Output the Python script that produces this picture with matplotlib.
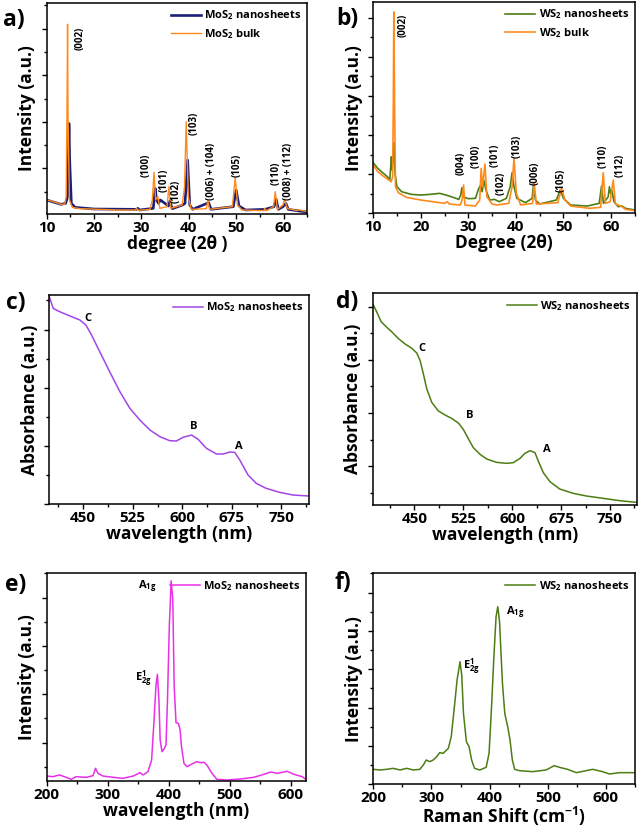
import numpy as np
import matplotlib
matplotlib.use('Agg')
import matplotlib.pyplot as plt
from matplotlib.ticker import MultipleLocator

plt.rcParams['font.family'] = ['Open Sans', 'DejaVu Sans']
plt.rcParams['font.weight'] = 'bold'
plt.rcParams['axes.labelweight'] = 'bold'
plt.rcParams['mathtext.fontset'] = 'custom'
plt.rcParams['mathtext.rm'] = 'Open Sans:bold'
plt.rcParams['mathtext.bf'] = 'Open Sans:bold'
plt.rcParams['mathtext.it'] = 'Open Sans:bold'

# ---------------- datos XRD MoS2 (a) ----------------
mos2_bulk_x = [10, 11, 12, 13, 13.8, 14.1, 14.3, 14.4, 14.5, 14.8, 15.4, 17, 25, 28.7, 29.0, 29.3,
               31.8, 32.3, 32.65, 33.0, 33.45, 33.9, 35.4, 35.8, 36.2, 38.6, 39.1, 39.45, 39.9, 40.5,
               43.7, 44.0, 44.4, 49.2, 49.8, 50.3, 51.2, 55.9, 56.0, 56.4, 57.9, 58.25, 58.7, 59.9,
               60.2, 60.8, 62.9, 63.0, 65]
mos2_bulk_y = [45, 42, 37, 32, 33, 55, 345, 573, 295, 45, 23, 19, 15, 15, 20, 14,
               17, 45, 128, 45, 55, 20, 25, 85, 20, 30, 85, 280, 55, 17,
               19, 43, 17, 25, 112, 30, 15, 13, 20, 13, 25, 70, 17, 30,
               47, 20, 13, 16, 10]
mos2_ns_x = [10, 13, 14.0, 14.4, 14.55, 14.7, 14.85, 15.2, 16, 20, 29.0, 29.25, 29.6, 32.5, 32.9,
             33.2, 33.6, 34.0, 35.7, 36.0, 36.5, 38.7, 39.2, 39.75, 40.2, 40.8, 44.2, 44.7, 49.4,
             50.0, 50.6, 52, 56.1, 58.0, 58.45, 58.9, 59.9, 60.5, 61.0, 63.2, 65]
mos2_ns_y = [45, 32, 35, 55, 145, 275, 165, 35, 23, 18, 17, 20, 15, 20, 80,
             45, 35, 45, 27, 42, 19, 30, 35, 165, 30, 17, 37, 17, 25,
             75, 27, 15, 17, 25, 47, 17, 25, 35, 17, 12, 9]
mos2_hkl = ['(002)', '(100)', '(101)', '(102)', '(103)', '(006) + (104)', '(105)', '(110)', '(008) + (112)']
mos2_hkl_x = [17.0, 31.0, 34.8, 37.4, 41.1, 44.8, 50.3, 58.4, 61.0]
mos2_hkl_y = [530, 150, 105, 70, 275, 130, 148, 125, 130]

# ---------------- datos XRD WS2 (b) ----------------
ws2_bulk_x = [10, 11, 12, 13, 13.8, 14.1, 14.25, 14.35, 14.5, 14.7, 15.3, 17, 20, 25, 25.6, 26,
              28.3, 28.7, 29.0, 29.3, 31.5, 32.4, 32.7, 33.0, 33.5, 33.9, 35.0, 36.0, 38.5, 39.2,
              39.6, 40.1, 41, 43.5, 43.85, 44.3, 48.8, 49.6, 50.3, 51.5, 55.5, 57.8, 58.35, 58.8,
              59.8, 60.45, 60.9, 62.3, 63, 65]
ws2_bulk_y = [145, 125, 113, 103, 95, 110, 340, 605, 340, 80, 62, 48, 40, 30, 35, 28,
              25, 40, 85, 25, 22, 40, 135, 80, 148, 50, 28, 25, 30, 80,
              165, 60, 25, 30, 90, 28, 32, 75, 40, 22, 15, 18, 122, 30,
              35, 100, 28, 20, 12, 8]
ws2_ns_x = [10, 11, 12, 13, 13.5, 13.7, 13.85, 14.0, 14.2, 14.35, 14.6, 15.0, 16, 18, 20, 22, 24,
            26, 28, 28.4, 28.65, 28.9, 30.0, 31.5, 32.2, 32.6, 32.9, 33.25, 33.7, 34.5, 35.5,
            36.5, 38.0, 38.8, 39.2, 39.6, 40.2, 42, 43.4, 43.7, 44.1, 45, 48.5, 49.3, 50.0, 51.5,
            55, 57.5, 58.0, 58.4, 59.4, 59.65, 59.9, 60.15, 60.6, 61.5, 62.3, 63, 65]
ws2_ns_y = [152, 135, 122, 110, 100, 140, 170, 130, 170, 212, 120, 80, 65, 57, 55, 57, 60,
            52, 42, 55, 77, 50, 44, 45, 75, 85, 65, 100, 70, 40, 42,
            35, 45, 80, 122, 80, 45, 32, 45, 85, 40, 28, 40, 70, 45, 25,
            22, 30, 82, 30, 50, 80, 60, 70, 35, 20, 22, 15, 10]
ws2_hkl = ['(002)', '(004)', '(100)', '(101)', '(102)', '(103)', '(006)', '(105)', '(110)', '(112)']
ws2_hkl_x = [16.3, 28.4, 31.7, 35.6, 37.0, 40.2, 44.0, 49.4, 58.4, 61.9]
ws2_hkl_y = [565, 150, 170, 175, 90, 200, 120, 100, 170, 145]

# ---------------- UV-vis MoS2 (c) ----------------
uv_mos2_x = [398.6, 404.6, 412, 430, 445, 454, 462.6, 475, 490, 505.5, 520.6, 535.7, 551, 566, 581,
             591, 601, 614, 624, 636.6, 651.7, 661.8, 671.9, 679.4, 687, 699.6, 712, 727, 747.5,
             767.7, 792]
uv_mos2_y = [622, 587, 579, 564, 552, 537, 507, 457, 397, 337, 287, 252, 222, 202, 190,
             189, 200, 207, 194, 167, 150, 150, 156, 155, 132, 87, 62, 47, 35,
             27, 24]
uv_mos2_lab = ['C', 'B', 'A']
uv_mos2_lab_x = [457.6, 617.4, 686]
uv_mos2_lab_y = [557, 232, 174]

# ---------------- UV-vis WS2 (d) ----------------
uv_ws2_x = [387, 392, 399, 407.6, 415, 425.5, 435.7, 446, 453.6, 458.7, 463.8, 469, 476.6, 486.8,
            497, 507, 517.5, 525, 533, 540.4, 550.7, 561, 576, 591.5, 601.8, 612, 619.6, 627.3,
            635, 640, 647.8, 658, 673, 693.7, 714, 739.7, 765, 791]
uv_ws2_y = [642, 622, 592, 575, 562, 541, 525, 512, 498, 476, 435, 390, 350, 324,
            312, 302, 288, 269, 240, 214, 194, 180, 170, 167, 169, 182, 197, 205,
            199, 174, 139, 112, 90, 77, 69, 62, 55, 50]
uv_ws2_lab = ['C', 'B', 'A']
uv_ws2_lab_x = [461, 535, 653]
uv_ws2_lab_y = [510, 309, 210]

# ---------------- Raman MoS2 (e) ----------------
ram_mos2_x = [200, 210, 221, 232, 240, 248, 265, 276, 280, 284, 292, 309, 325, 342, 353, 358, 366,
              372, 376, 379, 381.5, 384, 386, 389, 392, 395.6, 398, 401, 404, 406.5, 407, 409,
              412, 416, 418.7, 421, 425, 430, 438, 446, 451.6, 458, 462.6, 471, 479, 495.6,
              517.6, 539.6, 556, 567, 578, 594, 605.5, 619, 624.7]
ram_mos2_y = [45, 43, 48, 41, 35, 43, 41, 46, 68, 53, 45, 41, 38, 45, 55, 48, 58,
              93, 213, 313, 350, 273, 153, 118, 125, 138, 273, 493, 630, 580, 543, 313,
              205, 203, 183, 133, 83, 73, 81, 88, 85, 86, 78, 53, 35, 33,
              36, 41, 50, 57, 53, 59, 50, 43, 35]
ram_mos2_lab_x = [380, 372]
ram_mos2_lab_y = [613, 338]

# ---------------- Raman WS2 (f) ----------------
ram_ws2_x = [200, 211, 223, 234, 246, 257, 269, 280, 286, 291, 297, 303, 309, 314, 320, 329,
             334, 340, 344, 349, 352, 355, 360, 364.6, 369, 374, 383, 394, 399, 403, 407, 411,
             414, 417, 422, 426, 431, 435, 439, 443, 451, 474, 497, 511, 520, 534, 549, 566,
             577, 594, 606, 623, 649]
ram_ws2_y = [45, 43, 45, 48, 43, 48, 43, 45, 58, 73, 68, 73, 83, 95, 93, 108,
             143, 243, 313, 368, 328, 213, 128, 113, 73, 48, 43, 51, 93, 223, 373, 503,
             533, 488, 303, 213, 173, 133, 73, 45, 41, 38, 43, 56, 51, 45, 35, 41,
             45, 38, 31, 35, 35]
ram_ws2_lab_x = [355, 428.6]
ram_ws2_lab_y = [355, 518]

navy = '#1c1f7a'
orange = '#ff8a1c'
green = '#4d7d14'
purple = '#a445e6'
magenta = '#e830e8'


def estilo(ax, xlim, ylim, xmaj, xmin, ymaj, ymin):
    ax.set_xlim(xlim)
    ax.set_ylim(ylim)
    ax.xaxis.set_major_locator(MultipleLocator(xmaj))
    ax.xaxis.set_minor_locator(MultipleLocator(xmin))
    ax.yaxis.set_major_locator(MultipleLocator(ymaj))
    ax.yaxis.set_minor_locator(MultipleLocator(ymin))
    ax.tick_params(which='both', direction='out', width=1, labelleft=False,
                   labelsize=11, pad=1.5)
    ax.tick_params(which='major', length=3.5)
    ax.tick_params(which='minor', length=2)
    for s in ax.spines.values():
        s.set_linewidth(1.1)
    for t in ax.get_xticklabels():
        t.set_fontweight('bold')


def leyenda(ax):
    ax.legend(loc='upper right', frameon=False, handlelength=2.7,
              handletextpad=0.3, labelspacing=0.4, borderaxespad=0.2,
              borderpad=0.3, prop={'weight': 'bold', 'size': 8})


fig = plt.figure(figsize=(6.4, 8.32), dpi=100)

# a)
ax = fig.add_axes([0.073, 0.7428, 0.407, 0.2536])
ax.plot(mos2_ns_x, mos2_ns_y, color=navy, lw=1.9, label='MoS$_2$ nanosheets')
ax.plot(mos2_bulk_x, mos2_bulk_y, color=orange, lw=1.0, label='MoS$_2$ bulk')
for t, x, y in zip(mos2_hkl, mos2_hkl_x, mos2_hkl_y):
    ax.text(x, y, t, rotation=90, ha='center', va='center', fontsize=7, fontweight='bold')
estilo(ax, (10, 65), (3, 637), 10, 5, 140, 70)
ax.set_xlabel('degree (2θ )', fontsize=12.5, labelpad=0)
ax.set_ylabel('Intensity (a.u.)', fontsize=12.5, labelpad=4)
leyenda(ax)

# b)
ax = fig.add_axes([0.583, 0.7436, 0.409, 0.254])
ax.plot(ws2_ns_x, ws2_ns_y, color=green, lw=1.2, label='WS$_2$ nanosheets')
ax.plot(ws2_bulk_x, ws2_bulk_y, color=orange, lw=1.2, label='WS$_2$ bulk')
for t, x, y in zip(ws2_hkl, ws2_hkl_x, ws2_hkl_y):
    ax.text(x, y, t, rotation=90, ha='center', va='center', fontsize=7, fontweight='bold')
estilo(ax, (10, 65), (0, 635), 10, 5, 117.5, 58.75)
ax.set_xlabel('Degree (2θ)', fontsize=12.5, labelpad=0)
ax.set_ylabel('Intensity (a.u.)', fontsize=12.5, labelpad=4)
leyenda(ax)

# c)
ax = fig.add_axes([0.077, 0.3942, 0.406, 0.2512])
ax.plot(uv_mos2_x, uv_mos2_y, color=purple, lw=1.1, label='MoS$_2$ nanosheets')
for t, x, y in zip(uv_mos2_lab, uv_mos2_lab_x, uv_mos2_lab_y):
    ax.text(x, y, t, ha='center', va='center', fontsize=8, fontweight='bold')
estilo(ax, (398.6, 792), (0, 627), 75, 37.5, 174.5, 87.25)
ax.set_xlabel('wavelength (nm)', fontsize=12.5, labelpad=0)
ax.set_ylabel('Absorbance (a.u.)', fontsize=12.5, labelpad=4)
leyenda(ax)

# d)
ax = fig.add_axes([0.5823, 0.393, 0.4125, 0.2545])
ax.plot(uv_ws2_x, uv_ws2_y, color=green, lw=1.1, label='WS$_2$ nanosheets')
for t, x, y in zip(uv_ws2_lab, uv_ws2_lab_x, uv_ws2_lab_y):
    ax.text(x, y, t, ha='center', va='center', fontsize=8, fontweight='bold')
estilo(ax, (386, 791), (42, 677), 75, 37.5, 159, 79.5)
ax.set_xlabel('wavelength (nm)', fontsize=12.5, labelpad=0)
ax.set_ylabel('Absorbance (a.u.)', fontsize=12.5, labelpad=4)
leyenda(ax)

# e)
ax = fig.add_axes([0.073, 0.0617, 0.405, 0.2493])
ax.plot(ram_mos2_x, ram_mos2_y, color=magenta, lw=1.1, label='MoS$_2$ nanosheets')
ax.text(ram_mos2_lab_x[0], ram_mos2_lab_y[0], 'A$_{1g}$', ha='right', va='center',
        fontsize=8, fontweight='bold')
ax.text(ram_mos2_lab_x[1], ram_mos2_lab_y[1], 'E$^1_{2g}$', ha='right', va='center',
        fontsize=8, fontweight='bold')
estilo(ax, (200, 625), (31, 653), 100, 50, 145, 72.5)
ax.set_xlabel('wavelength (nm)', fontsize=12.5, labelpad=0)
ax.set_ylabel('Intensity (a.u.)', fontsize=12.5, labelpad=4)
leyenda(ax)

# f)
ax = fig.add_axes([0.5833, 0.0573, 0.409, 0.2536])
ax.plot(ram_ws2_x, ram_ws2_y, color=green, lw=1.1, label='WS$_2$ nanosheets')
ax.text(ram_ws2_lab_x[0], ram_ws2_lab_y[0], 'E$^1_{2g}$', ha='left', va='center',
        fontsize=8, fontweight='bold')
ax.text(ram_ws2_lab_x[1], ram_ws2_lab_y[1], 'A$_{1g}$', ha='left', va='center',
        fontsize=8, fontweight='bold')
estilo(ax, (200, 650), (0, 633), 100, 50, 115, 57.5)
ax.set_xlabel('Raman Shift (cm$^{-1}$)', fontsize=12.5, labelpad=0)
ax.set_ylabel('Intensity (a.u.)', fontsize=12.5, labelpad=4)
leyenda(ax)

# letras de los paneles
for t, x, y in [('a)', 14, 20), ('b)', 347, 19), ('c)', 16, 303),
                ('d)', 347, 302), ('e)', 16, 585), ('f)', 343, 583)]:
    fig.text(x / 640, 1 - y / 832, t, ha='center', va='center', fontsize=16.5, fontweight='bold')

fig.savefig('out.png', dpi=100)
